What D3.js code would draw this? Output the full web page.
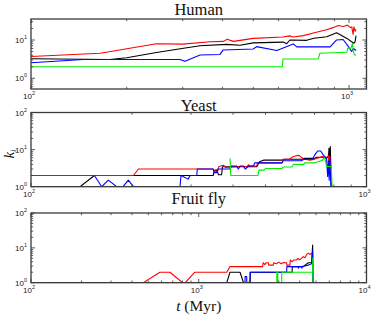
<!DOCTYPE html>
<html>
<head>
<meta charset="utf-8">
<script src="https://cdn.jsdelivr.net/npm/d3@7"></script>
<style>
body { margin:0; background:#fff; }
svg { display:block; }
.tick-label { font-family: "Liberation Sans", Arial, sans-serif; font-size:8px; fill:#222; }
.title { font-family: "Liberation Serif", "DejaVu Serif", serif; font-size:16.5px; fill:#111; }
</style>
</head>
<body>
<div id="plot"></div>
<script>
// panel titles and axis extents
var titles = ['Human', 'Yeast', 'Fruit fly'];
var xDomains = [[100, 1135], [100, 1000], [100, 10000]];
var yDomains = [[0.526, 35.3], [1, 100], [1, 100]];
var xTickExps = [[2, 3], [2, 3], [2, 3, 4]];
var yTickExps = [[0, 1], [0, 1, 2], [0, 1, 2]];

// series, [t (Myr), k]
var humanBlack = [[100,3.25],[177,3.1],[200,3.45],[248,4.7],[309,6.3],[340,7.1],[412,7.7],[454,7.3],[500,8.4],[621,8.8],[637,8.0],[652,10],[736,9.8],[775,11.1],[851,12.2],[914,15.5],[985,11],[1019,9],[1037,8.2],[1045,9],[1052,13]];
var humanRed = [[100,3.7],[165,4.5],[248,8.0],[300,7.8],[366,9.0],[403,9.2],[414,10.4],[433,9.2],[500,11],[620,12],[650,12.8],[668,12],[718,13],[790,16],[850,18.5],[890,21],[926,24],[960,22.5],[990,24.5],[1010,21],[1020,22],[1030,14],[1036,22],[1045,17],[1052,19]];
var humanBlue = [[100,2.55],[146,3.1],[294,3.1],[305,2.8],[340,4.05],[393,4.2],[402,5.5],[500,5.8],[512,6.7],[593,5.3],[668,7.9],[685,6.6],[872,6.6],[914,10],[958,10.3],[996,6.7],[1019,5.0],[1032,6.0],[1052,5.3]];
var humanGreen = [[100,2.0],[617,2.0],[620,3.2],[800,3.2],[810,4.5],[985,4.8],[990,6.1],[1015,6.1],[1025,8.2],[1032,5],[1040,4.1],[1052,4.1]];

var yeastBlack = [[100,1],[140,1],[154.5,2],[349,2],[353,2.8],[358,2.8],[362,2.1],[370,2.1],[372,3.46],[471,3.46],[480,4.7],[493,5.2],[560,5.2],[570,5.5],[640,5.5],[650,5.8],[700,5.8],[710,6.2],[740,6.2],[750,5.8],[770,6.2],[773,10.8],[776,6.5],[780,12],[786,1]];
var yeastRed = [[100,2],[202,2],[209,3],[349,3],[353,2.6],[360,2.6],[363,3.5],[375,3.8],[380,3.3],[420,3.5],[440,3.5],[445,3.9],[450,3.6],[470,3.6],[475,4.4],[560,4.4],[565,5.5],[590,5.5],[600,6.2],[620,6.9],[630,7],[640,6.2],[650,5.5],[680,5.2],[700,5.5],[740,6.5],[760,6],[770,7],[774,3],[778,6.5],[784,2.5]];
var yeastBlue = [[154.5,2],[162.5,1],[170,1.5],[180,1],[188,1],[195,1.5],[202,1],[278,1],[280,2],[294,1.6],[298,2],[312,2],[313,3],[349,3],[351,2.4],[357,2.4],[360,3],[392,3],[395,3.6],[410,3.6],[415,3],[420,3.6],[430,3.6],[435,3],[445,3.6],[460,3.6],[465,4.4],[560,4.4],[565,5],[640,5],[650,5.5],[690,5.5],[700,7],[715,9.2],[730,9.2],[745,7],[760,6],[766,1.9],[770,5],[774,1.5],[778,6],[783,1]];
var yeastGreen = [[392,5.8],[394,2],[475,2],[478,2.8],[495,2.8],[500,3.1],[560,3.1],[565,3.4],[600,3.4],[605,4],[650,4],[655,4.4],[700,4.4],[720,4.8],[740,5.2],[745,5.8],[752,5.8],[760,3.5],[785,3.5],[790,1]];

var flyBlack = [[100,1],[1469,1],[1536,2],[1762,2],[1850,1],[2022,1],[2030,2],[3600,2],[3610,2.9],[4199,2.9],[4300,3.2],[4500,3.75],[4711,3.75],[4775,12],[4790,1]];
var flyRed = [[139,1],[467,1],[587,2],[673,2],[801,1],[830,1],[948,2],[1469,2],[1536,2.9],[2404,2.9],[2420,3.75],[2480,3.3],[2520,3.75],[2600,3.75],[2610,3.2],[2783,3.2],[2800,3.75],[2900,3.5],[3000,3.9],[3100,3.5],[3200,3.8],[3342,3.75],[3350,3.2],[3499,3.2],[3510,4.5],[3600,4.0],[3700,4.5],[3836,4.5],[3900,5.0],[4000,4.5],[4199,5.6],[4300,5.2],[4400,6.5],[4500,7.0],[4600,6.5],[4711,7.0],[4775,5.6]];
var flyBlue = [[1000,1],[1888,1],[1890,1.49],[1930,1.49],[1935,1],[2022,1],[2025,2],[3342,2],[3350,2.9],[3926,2.9],[3930,2.6],[3950,2.9],[4111,2.9],[4120,2.6],[4140,2.9],[4500,3.2],[4711,3.5],[4775,8.7],[4790,1]];
var flyGreen = [[2918,1],[2920,2],[2960,2],[2965,1],[3122,1],[3125,2],[4775,2],[4780,5],[4790,1]];

var seriesColors = ['#000000', '#ff0000', '#0000ff', '#00ee00'];
var panelSeries = [
	[humanBlack, humanRed, humanBlue, humanGreen],
	[yeastBlack, yeastRed, yeastBlue, yeastGreen],
	[flyBlack, flyRed, flyBlue, flyGreen]
];

var W = 374, H = 317;
var margin = {l:31, r:7.5};
var panelTop = [19, 112.5, 213];
var panelBottom = [89, 186.7, 282.7];
var titleY = [15, 110.5, 204];

var svg = d3.select('#plot').append('svg')
	.attr('width', W)
	.attr('height', H);

function powLabel(sel, exp){
	sel.append('tspan').text('10');
	sel.append('tspan').attr('dy', -4).style('font-size', '5.5px').text(exp);
}

titles.forEach(function(title, i){
	var x = d3.scaleLog().domain(xDomains[i]).range([margin.l, W - margin.r]);
	var y = d3.scaleLog().domain(yDomains[i]).range([panelBottom[i], panelTop[i]]);
	var g = svg.append('g');

	// clip
	var clipId = 'clip' + i;
	svg.append('clipPath').attr('id', clipId)
		.append('rect')
		.attr('x', margin.l).attr('y', panelTop[i])
		.attr('width', W - margin.r - margin.l)
		.attr('height', panelBottom[i] - panelTop[i]);

	var line = d3.line()
		.x(function(d){ return x(d[0]); })
		.y(function(d){ return y(d[1]); });

	panelSeries[i].forEach(function(s, j){
		g.append('path')
			.datum(s)
			.attr('clip-path', 'url(#' + clipId + ')')
			.attr('d', line)
			.attr('fill', 'none')
			.attr('stroke', seriesColors[j])
			.attr('stroke-width', 1.1)
			.attr('stroke-linejoin', 'round');
	});

	// inward ticks on all four sides
	var xT = x.ticks(), yT = y.ticks();
	var majX = xTickExps[i].map(function(e){ return Math.pow(10, e); });
	var majY = yTickExps[i].map(function(e){ return Math.pow(10, e); });
	function isMaj(v, list){ return list.some(function(m){ return Math.abs(m - v) < 1e-6 * m; }); }

	xT.forEach(function(v){
		var len = isMaj(v, majX) ? 4 : 2.2;
		[[panelBottom[i], -len], [panelTop[i], len]].forEach(function(p){
			g.append('line')
				.attr('x1', x(v)).attr('x2', x(v))
				.attr('y1', p[0]).attr('y2', p[0] + p[1])
				.attr('stroke', '#333').attr('stroke-width', 0.8);
		});
	});
	yT.forEach(function(v){
		var len = isMaj(v, majY) ? 4 : 2.2;
		[[margin.l, len], [W - margin.r, -len]].forEach(function(p){
			g.append('line')
				.attr('y1', y(v)).attr('y2', y(v))
				.attr('x1', p[0]).attr('x2', p[0] + p[1])
				.attr('stroke', '#333').attr('stroke-width', 0.8);
		});
	});

	g.append('rect')
		.attr('x', margin.l).attr('y', panelTop[i])
		.attr('width', W - margin.r - margin.l)
		.attr('height', panelBottom[i] - panelTop[i])
		.attr('fill', 'none')
		.attr('stroke', '#3a3a3a')
		.attr('stroke-width', 1.3);

	// tick labels
	xTickExps[i].forEach(function(e){
		var t = g.append('text').attr('class', 'tick-label')
			.attr('x', x(Math.pow(10, e)) - 2)
			.attr('y', panelBottom[i] + 10)
			.attr('text-anchor', 'middle');
		powLabel(t, e);
	});
	yTickExps[i].forEach(function(e){
		var t = g.append('text').attr('class', 'tick-label')
			.attr('x', margin.l - 4)
			.attr('y', y(Math.pow(10, e)) + 3)
			.attr('text-anchor', 'end');
		powLabel(t, e);
	});

	svg.append('text').attr('class', 'title')
		.attr('x', (margin.l + W - margin.r) / 2)
		.attr('y', titleY[i])
		.attr('text-anchor', 'middle')
		.text(title);
});

// axis labels
var xl = svg.append('text').attr('class', 'title')
	.attr('x', (margin.l + W - margin.r) / 2)
	.attr('y', 310.5)
	.style('font-size', '15.5px')
	.attr('text-anchor', 'middle');
xl.append('tspan').style('font-style', 'italic').text('t');
xl.append('tspan').text(' (Myr)');

var yl = svg.append('text').attr('class', 'title')
	.attr('transform', 'translate(13.5,154) rotate(-90)')
	.style('font-size', '15px')
	.attr('text-anchor', 'middle');
yl.append('tspan').style('font-style', 'italic').text('k');
yl.append('tspan').attr('dy', 2.5).style('font-size', '9px').style('font-style', 'italic').text('i');
</script>
</body>
</html>
